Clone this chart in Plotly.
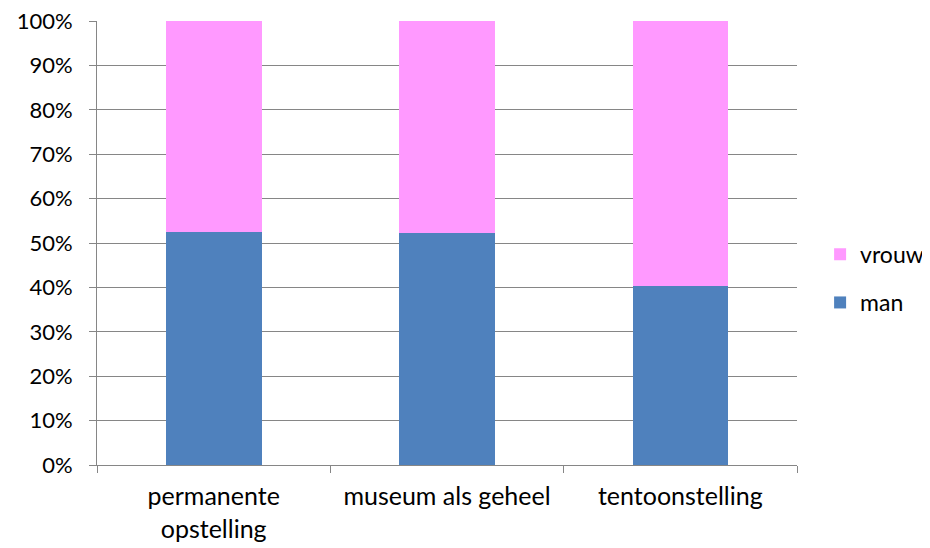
import plotly.graph_objects as go

categories = ["permanente<br>opstelling", "museum als geheel", "tentoonstelling"]
man = [0.525, 0.523, 0.403]
vrouw = [0.475, 0.477, 0.597]

fig = go.Figure()
fig.add_trace(go.Bar(name="man", x=categories, y=man, marker_color="#4F81BD", marker_line_width=0,
                     legend="legend2"))
fig.add_trace(go.Bar(name="vrouw", x=categories, y=vrouw, marker_color="#FF99FF", marker_line_width=0,
                     legend="legend"))

font = dict(family="Lato, Carlito, Open Sans, sans-serif", size=24, color="#000000")
leg = dict(x=1.033, xanchor="left", yanchor="middle", font=dict(font, size=23),
           bgcolor="rgba(0,0,0,0)", itemsizing="constant")
fig.update_layout(
    width=922, height=540,
    margin=dict(l=89, r=133, t=13, b=83, autoexpand=False),
    barmode="stack", bargap=0.59,
    plot_bgcolor="white", paper_bgcolor="white",
    font=font,
    showlegend=True,
    legend=dict(leg, y=0.4745),
    legend2=dict(leg, y=0.366),
)
fig.update_yaxes(range=[0, 1], dtick=0.1, tickformat=".0%", showgrid=True, gridcolor="#868686", gridwidth=1,
                 showline=True, linecolor="#868686", linewidth=1, ticks="outside", ticklen=7,
                 tickcolor="#868686", zeroline=False, ticklabelstandoff=12, automargin=False,
                 ticklabeloverflow="allow", tickfont=dict(size=22))
fig.update_xaxes(showline=True, linecolor="#868686", linewidth=1, ticks="outside", ticklen=7,
                 tickcolor="#868686", tickson="boundaries", showgrid=False, automargin=False,
                 ticklabelstandoff=9, tickfont=dict(size=25), ticklabeloverflow="allow")

fig.write_html("out.html")
